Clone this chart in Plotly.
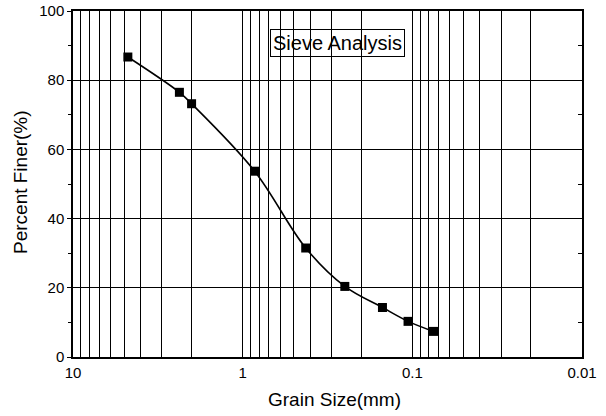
import plotly.graph_objects as go

# Data
grain_size_mm = [4.75, 2.36, 2.0, 0.85, 0.425, 0.25, 0.15, 0.106, 0.075]
percent_finer = [86.7, 76.5, 73.2, 53.7, 31.5, 20.4, 14.3, 10.3, 7.4]

x_major = [10, 1, 0.1, 0.01]
x_major_text = ["10", "1", "0.1", "0.01"]
y_major = [0, 20, 40, 60, 80, 100]
y_minor = [10, 30, 50, 70, 90]

# log gridline positions (decades plus 2..9 multiples)
x_grid_vals = [10]
for dec in [1, 0.1, 0.01]:
    for m in range(9, 0, -1):
        x_grid_vals.append(round(dec * m, 6))
labels = dict(zip(x_major, x_major_text))
x_grid_text = [labels.get(v, "") for v in x_grid_vals]

FONT = "Arial, Liberation Sans, sans-serif"

L, R, T, B = 73, 24, 11, 59
W, H = 606, 416
pw, ph = W - L - R, H - T - B

fig = go.Figure()
fig.add_trace(go.Scatter(
    x=grain_size_mm, y=percent_finer,
    mode="lines+markers",
    line=dict(color="black", width=1.6, shape="spline", smoothing=1.0),
    marker=dict(symbol="square", size=9, color="black"),
    showlegend=False,
))
fig.add_trace(go.Scatter(x=[grain_size_mm[0]], y=[percent_finer[0]], yaxis="y2",
                         mode="markers", marker=dict(opacity=0), showlegend=False,
                         hoverinfo="skip"))

fig.update_layout(
    width=W, height=H,
    margin=dict(l=L, r=R, t=T, b=B, autoexpand=False),
    paper_bgcolor="white", plot_bgcolor="white",
    font=dict(family=FONT, color="black", size=15),
    xaxis=dict(
        type="log", range=[1, -2], automargin=False,
        tickmode="array", tickvals=x_grid_vals, ticktext=x_grid_text,
        showgrid=True, gridcolor="black", gridwidth=1,
        ticks="", ticklabelstandoff=1,
        showline=True, linecolor="black", linewidth=1.5, mirror=True,
        zeroline=False,
        tickfont=dict(size=15),
    ),
    yaxis=dict(
        range=[0, 100], automargin=False,
        tickmode="array", tickvals=y_major,
        showgrid=True, gridcolor="black", gridwidth=1,
        ticks="outside", ticklen=4, tickcolor="black",
        minor=dict(tickmode="array", tickvals=y_minor, ticks="outside", ticklen=3,
                   tickcolor="black", showgrid=False),
        showline=True, linecolor="black", linewidth=1.5, mirror=True,
        zeroline=False,
        tickfont=dict(size=15),
    ),
    yaxis2=dict(
        overlaying="y", side="right", matches="y", range=[0, 100], automargin=False,
        tickmode="array", tickvals=y_minor, ticks="inside", ticklen=4,
        tickcolor="black", showticklabels=False, showgrid=False,
        showline=False, zeroline=False,
    ),
    annotations=[
        dict(text="Sieve Analysis", xref="paper", yref="paper",
             x=(337 - L) / pw, y=(H - B - 43) / ph, xanchor="center", yanchor="middle",
             showarrow=False, font=dict(size=20, family=FONT, color="black"),
             bordercolor="black", borderwidth=1, borderpad=2),
        dict(text="Grain Size(mm)", xref="paper", yref="paper",
             x=(334 - L) / pw, y=-(400 - (H - B)) / ph, xanchor="center", yanchor="middle",
             showarrow=False, font=dict(size=19, family=FONT, color="black")),
        dict(text="Percent Finer(%)", xref="paper", yref="paper", textangle=-90,
             x=-(L - 21) / pw, y=(H - B - 182) / ph, xanchor="center", yanchor="middle",
             showarrow=False, font=dict(size=19, family=FONT, color="black")),
    ],
)

fig.write_html(
    "out.html",
    config={"displayModeBar": False},
    post_script="document.body.style.margin='0';document.body.style.padding='0';"
                "document.body.style.overflow='hidden';",
)
